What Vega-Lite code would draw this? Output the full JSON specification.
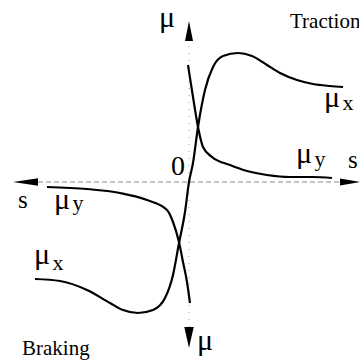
{
  "$schema": "https://vega.github.io/schema/vega-lite/v6.json",
  "width": 359,
  "height": 360,
  "padding": 0,
  "autosize": {"type": "none"},
  "background": "white",
  "config": {"view": {"stroke": null}},
  "datasets": {
    "curves": [
      {"curve": "mu_x", "s": -1.54, "mu": -0.97},
      {"curve": "mu_x", "s": -1.29, "mu": -0.99},
      {"curve": "mu_x", "s": -1.02, "mu": -1.08},
      {"curve": "mu_x", "s": -0.79, "mu": -1.21},
      {"curve": "mu_x", "s": -0.66, "mu": -1.28},
      {"curve": "mu_x", "s": -0.51, "mu": -1.31},
      {"curve": "mu_x", "s": -0.36, "mu": -1.28},
      {"curve": "mu_x", "s": -0.24, "mu": -1.16},
      {"curve": "mu_x", "s": -0.16, "mu": -0.93},
      {"curve": "mu_x", "s": -0.10, "mu": -0.61},
      {"curve": "mu_x", "s": -0.04, "mu": -0.30},
      {"curve": "mu_x", "s": 0.0, "mu": 0.0},
      {"curve": "mu_x", "s": 0.04, "mu": 0.19},
      {"curve": "mu_x", "s": 0.09, "mu": 0.55},
      {"curve": "mu_x", "s": 0.16, "mu": 0.92},
      {"curve": "mu_x", "s": 0.24, "mu": 1.15},
      {"curve": "mu_x", "s": 0.34, "mu": 1.26},
      {"curve": "mu_x", "s": 0.49, "mu": 1.29},
      {"curve": "mu_x", "s": 0.63, "mu": 1.26},
      {"curve": "mu_x", "s": 0.78, "mu": 1.17},
      {"curve": "mu_x", "s": 0.91, "mu": 1.09},
      {"curve": "mu_x", "s": 1.08, "mu": 1.02},
      {"curve": "mu_x", "s": 1.24, "mu": 0.98},
      {"curve": "mu_x", "s": 1.41, "mu": 0.96},
      {"curve": "mu_x", "s": 1.54, "mu": 0.95},
      {"curve": "mu_y_traction", "s": -0.01, "mu": 1.17},
      {"curve": "mu_y_traction", "s": 0.04, "mu": 0.85},
      {"curve": "mu_y_traction", "s": 0.09, "mu": 0.55},
      {"curve": "mu_y_traction", "s": 0.14, "mu": 0.35},
      {"curve": "mu_y_traction", "s": 0.23, "mu": 0.25},
      {"curve": "mu_y_traction", "s": 0.41, "mu": 0.17},
      {"curve": "mu_y_traction", "s": 0.58, "mu": 0.11},
      {"curve": "mu_y_traction", "s": 0.78, "mu": 0.07},
      {"curve": "mu_y_traction", "s": 1.01, "mu": 0.05},
      {"curve": "mu_y_traction", "s": 1.24, "mu": 0.05},
      {"curve": "mu_y_traction", "s": 1.43, "mu": 0.04},
      {"curve": "mu_y_braking", "s": -1.42, "mu": -0.05},
      {"curve": "mu_y_braking", "s": -1.02, "mu": -0.07},
      {"curve": "mu_y_braking", "s": -0.69, "mu": -0.11},
      {"curve": "mu_y_braking", "s": -0.42, "mu": -0.18},
      {"curve": "mu_y_braking", "s": -0.22, "mu": -0.28},
      {"curve": "mu_y_braking", "s": -0.16, "mu": -0.40},
      {"curve": "mu_y_braking", "s": -0.10, "mu": -0.60},
      {"curve": "mu_y_braking", "s": -0.06, "mu": -0.80},
      {"curve": "mu_y_braking", "s": -0.02, "mu": -1.00},
      {"curve": "mu_y_braking", "s": 0.01, "mu": -1.21}
    ],
    "axes": [
      {"axis": "s", "from": -1.51, "to": 1.53, "at": 0},
      {"axis": "mu", "from": -1.45, "to": 1.42, "at": 0}
    ],
    "arrows": [
      {"end": "left", "s": -1.635, "mu": 0.0},
      {"end": "right", "s": 1.61, "mu": 0.0},
      {"end": "up", "s": 0.0, "mu": 1.51},
      {"end": "down", "s": 0.0, "mu": -1.555}
    ],
    "labels": [
      {"role": "symbol", "text": "μ", "s": -0.30, "mu": 1.55},
      {"role": "word", "text": "Traction", "s": 1.01, "mu": 1.54},
      {"role": "symbol", "text": "μ", "s": 1.35, "mu": 0.75},
      {"role": "sub", "text": "x", "s": 1.535, "mu": 0.72},
      {"role": "symbol", "text": "μ", "s": 1.07, "mu": 0.19},
      {"role": "sub", "text": "y", "s": 1.255, "mu": 0.16},
      {"role": "axis", "text": "s", "s": 1.59, "mu": 0.14},
      {"role": "origin", "text": "0", "s": -0.18, "mu": 0.07},
      {"role": "axis", "text": "s", "s": -1.71, "mu": -0.26},
      {"role": "symbol", "text": "μ", "s": -1.35, "mu": -0.27},
      {"role": "sub", "text": "y", "s": -1.165, "mu": -0.28},
      {"role": "symbol", "text": "μ", "s": -1.55, "mu": -0.82},
      {"role": "sub", "text": "x", "s": -1.365, "mu": -0.88},
      {"role": "word", "text": "Braking", "s": -1.67, "mu": -1.73},
      {"role": "symbol", "text": "μ", "s": 0.08, "mu": -1.68}
    ]
  },
  "encoding": {
    "x": {"field": "s", "type": "quantitative", "scale": {"domain": [-1.89, 1.70], "nice": false, "zero": false}, "axis": null},
    "y": {"field": "mu", "type": "quantitative", "scale": {"domain": [-1.78, 1.82], "nice": false, "zero": false}, "axis": null}
  },
  "layer": [
    {
      "data": {"name": "axes"},
      "transform": [{"filter": "datum.axis === 's'"}],
      "mark": {"type": "rule", "color": "#8a8a8a", "strokeWidth": 1, "strokeDash": [5, 3]},
      "encoding": {
        "x": {"field": "from", "type": "quantitative"},
        "x2": {"field": "to"},
        "y": {"field": "at", "type": "quantitative"}
      }
    },
    {
      "data": {"name": "axes"},
      "transform": [{"filter": "datum.axis === 'mu'"}],
      "mark": {"type": "rule", "color": "#a0a0a0", "strokeWidth": 1, "strokeDash": [1, 6]},
      "encoding": {
        "y": {"field": "from", "type": "quantitative"},
        "y2": {"field": "to"},
        "x": {"field": "at", "type": "quantitative"}
      }
    },
    {
      "data": {"name": "curves"},
      "mark": {"type": "line", "interpolate": "monotone", "color": "black", "strokeWidth": 2.2},
      "encoding": {"detail": {"field": "curve"}}
    },
    {
      "data": {"name": "arrows"},
      "transform": [{"filter": "datum.end === 'left'"}],
      "mark": {"type": "point", "shape": "M-1,0L1,-0.3L1,0.3Z", "size": 625, "filled": true, "color": "black", "opacity": 1}
    },
    {
      "data": {"name": "arrows"},
      "transform": [{"filter": "datum.end === 'right'"}],
      "mark": {"type": "point", "shape": "M1,0L-1,-0.35L-1,0.35Z", "size": 400, "filled": true, "color": "black", "opacity": 1}
    },
    {
      "data": {"name": "arrows"},
      "transform": [{"filter": "datum.end === 'up'"}],
      "mark": {"type": "point", "shape": "M0,-1L0.4,1L-0.4,1Z", "size": 400, "filled": true, "color": "black", "opacity": 1}
    },
    {
      "data": {"name": "arrows"},
      "transform": [{"filter": "datum.end === 'down'"}],
      "mark": {"type": "point", "shape": "M0,1L0.45,-1L-0.45,-1Z", "size": 441, "filled": true, "color": "black", "opacity": 1}
    },
    {
      "data": {"name": "labels"},
      "transform": [{"filter": "datum.role === 'symbol'"}],
      "mark": {"type": "text", "font": "Liberation Serif", "fontSize": 30, "align": "left", "baseline": "alphabetic", "color": "black"},
      "encoding": {"text": {"field": "text"}}
    },
    {
      "data": {"name": "labels"},
      "transform": [{"filter": "datum.role === 'axis'"}],
      "mark": {"type": "text", "font": "Liberation Serif", "fontSize": 25, "align": "left", "baseline": "alphabetic", "color": "black"},
      "encoding": {"text": {"field": "text"}}
    },
    {
      "data": {"name": "labels"},
      "transform": [{"filter": "datum.role === 'sub'"}],
      "mark": {"type": "text", "font": "Liberation Serif", "fontSize": 22, "align": "left", "baseline": "alphabetic", "color": "black"},
      "encoding": {"text": {"field": "text"}}
    },
    {
      "data": {"name": "labels"},
      "transform": [{"filter": "datum.role === 'word'"}],
      "mark": {"type": "text", "font": "Liberation Serif", "fontSize": 21, "align": "left", "baseline": "alphabetic", "color": "black"},
      "encoding": {"text": {"field": "text"}}
    },
    {
      "data": {"name": "labels"},
      "transform": [{"filter": "datum.role === 'origin'"}],
      "mark": {"type": "text", "font": "Liberation Serif", "fontSize": 28, "align": "left", "baseline": "alphabetic", "color": "black"},
      "encoding": {"text": {"field": "text"}}
    }
  ]
}
